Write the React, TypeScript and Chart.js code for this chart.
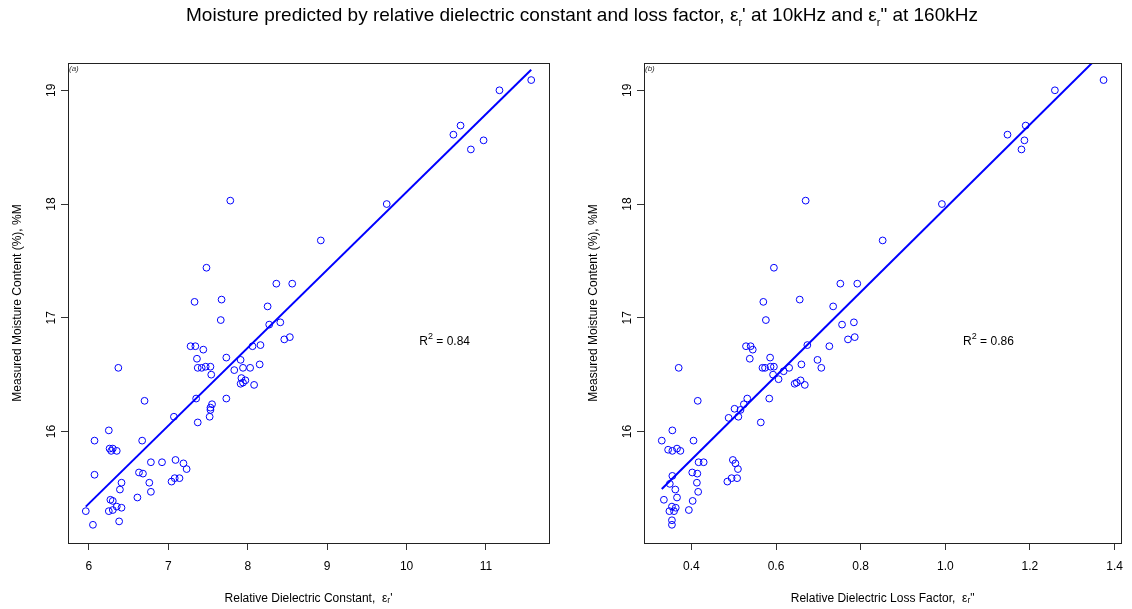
import React, { useEffect, useRef } from "react";
import { Chart, registerables } from "chart.js";

Chart.register(...registerables);

// ---------- data ----------
const constX = [
  7.48, 8.36, 8.56, 7.33, 7.67, 7.66, 8.25, 8.27, 8.41, 8.46, 8.53,
  7.28, 7.34, 7.44, 7.36, 7.73, 8.06, 8.16, 7.91,
  7.37, 7.42, 7.47, 7.53, 7.54, 6.37, 7.83, 7.94, 8.03, 8.15,
  7.92, 7.97, 7.94, 7.91, 8.08,
  6.70, 7.35, 7.73, 7.55, 7.53, 7.53, 7.52, 7.07, 7.37,
  6.25, 6.07, 6.67, 6.26, 6.30, 6.28, 6.35, 6.78, 6.92, 7.09, 7.19, 7.23,
  6.07, 6.63, 6.68, 7.04, 7.08, 7.14, 6.76, 6.41, 6.39, 6.78, 6.61, 6.27,
  6.30, 6.35, 6.41, 6.25, 6.30, 5.96, 6.05, 6.38,
  11.57, 11.17, 10.59, 10.68, 10.81, 10.97, 9.75, 7.78, 8.92,
];
const constY = [
  17.44, 17.30, 17.30, 17.14, 17.16, 16.98, 17.10, 16.94, 16.96, 16.81, 16.83,
  16.75, 16.75, 16.72, 16.64, 16.65, 16.75, 16.76, 16.63,
  16.56, 16.56, 16.57, 16.57, 16.50, 16.56, 16.54, 16.56, 16.56, 16.59,
  16.47, 16.45, 16.43, 16.42, 16.41,
  16.27, 16.29, 16.29, 16.24, 16.21, 16.19, 16.13, 16.13, 16.08,
  16.01, 15.92, 15.92, 15.85, 15.85, 15.83, 15.83, 15.73, 15.73, 15.75, 15.72, 15.67,
  15.62, 15.64, 15.63, 15.56, 15.59, 15.59, 15.55, 15.55, 15.49, 15.47, 15.42, 15.40,
  15.39, 15.34, 15.33, 15.30, 15.31, 15.30, 15.18, 15.21,
  19.09, 19.00, 18.61, 18.69, 18.48, 18.56, 18.00, 18.03, 17.68,
];
const lossX = [
  0.595, 0.752, 0.792, 0.570, 0.656, 0.576, 0.735, 0.756, 0.784, 0.770, 0.786,
  0.529, 0.540, 0.545, 0.538, 0.674, 0.726, 0.586, 0.698,
  0.568, 0.574, 0.587, 0.595, 0.593, 0.370, 0.618, 0.631, 0.707, 0.660, 0.606,
  0.644, 0.649, 0.658, 0.668,
  0.415, 0.584, 0.532, 0.524, 0.516, 0.511, 0.502, 0.488, 0.564,
  0.355, 0.330, 0.405, 0.345, 0.355, 0.366, 0.374, 0.417, 0.429, 0.498, 0.504, 0.510,
  0.355, 0.402, 0.414, 0.485, 0.495, 0.508, 0.413, 0.349, 0.362, 0.416, 0.403, 0.335,
  0.366, 0.354, 0.363, 0.348, 0.359, 0.394, 0.354, 0.354,
  1.374, 1.259, 1.147, 1.190, 1.180, 1.187, 0.992, 0.670, 0.852,
];
const lossY = [
  17.44, 17.30, 17.30, 17.14, 17.16, 16.98, 17.10, 16.94, 16.96, 16.81, 16.83,
  16.75, 16.75, 16.72, 16.64, 16.76, 16.75, 16.65, 16.63,
  16.56, 16.56, 16.57, 16.57, 16.50, 16.56, 16.53, 16.56, 16.56, 16.59, 16.46,
  16.42, 16.43, 16.45, 16.41,
  16.27, 16.29, 16.29, 16.24, 16.19, 16.13, 16.20, 16.12, 16.08,
  16.01, 15.92, 15.92, 15.84, 15.83, 15.85, 15.83, 15.73, 15.73, 15.75, 15.72, 15.67,
  15.61, 15.64, 15.63, 15.56, 15.59, 15.59, 15.55, 15.54, 15.49, 15.47, 15.39, 15.40,
  15.42, 15.34, 15.33, 15.30, 15.30, 15.31, 15.22, 15.18,
  19.09, 19.00, 18.61, 18.69, 18.48, 18.56, 18.00, 18.03, 17.68,
];
// fitted lines (end points)
const constFitX = [5.96, 11.57];
const constFitY = [15.34, 19.18];
const lossFitX = [0.33, 1.374];
const lossFitY = [15.495, 19.34];

const yTicks = [16, 17, 18, 19];
const constTicks = [6, 7, 8, 9, 10, 11];
const lossTicks = [0.4, 0.6, 0.8, 1.0, 1.2, 1.4];

const FONT = "'Liberation Sans', Arial, Helvetica, sans-serif";
const BLUE = "#0000ff";

const framePlugin = {
  id: "frame",
  afterDraw(chart: any, _args: any, opts: any) {
    const { ctx, chartArea: a, scales } = chart;
    ctx.save();
    ctx.strokeStyle = "#222";
    ctx.lineWidth = 1;
    ctx.strokeRect(Math.round(a.left) + 0.5, Math.round(a.top) + 0.5, Math.round(a.right - a.left), Math.round(a.bottom - a.top));
    // panel tag
    ctx.fillStyle = "#333";
    ctx.font = `italic 8px ${FONT}`;
    ctx.textAlign = "left";
    ctx.textBaseline = "top";
    ctx.fillText(opts.tag, a.left + 1, a.top + 2);
    // R^2 annotation
    const cx = scales.x.getPixelForValue(opts.r2x);
    const cy = scales.y.getPixelForValue(opts.r2y);
    ctx.fillStyle = "#000";
    ctx.textBaseline = "middle";
    ctx.font = `12px ${FONT}`;
    const wR = ctx.measureText("R").width;
    const rest = " = " + opts.r2;
    const wRest = ctx.measureText(rest).width;
    ctx.font = `9px ${FONT}`;
    const w2 = ctx.measureText("2").width;
    const total = wR + w2 + wRest;
    let x = cx - total / 2;
    ctx.font = `12px ${FONT}`;
    ctx.fillText("R", x, cy);
    x += wR;
    ctx.font = `9px ${FONT}`;
    ctx.fillText("2", x, cy - 5);
    x += w2;
    ctx.font = `12px ${FONT}`;
    ctx.fillText(rest, x, cy);
    ctx.restore();
  },
};

type PanelCfg = {
  xs: number[];
  ys: number[];
  fitX: number[];
  fitY: number[];
  xMin: number;
  xMax: number;
  xStep: number;
  xTicks: number[];
  decimals: number;
  xTitle: string;
  tag: string;
  r2: string;
  r2x: number;
  r2y: number;
  padLeft: number;
  padRight: number;
  left: number;
};

function Panel({ cfg }: { cfg: PanelCfg }) {
  const ref = useRef<HTMLCanvasElement | null>(null);
  useEffect(() => {
    if (!ref.current) return;
    const pts = cfg.xs.map((x, i) => ({ x, y: cfg.ys[i] }));
    const fit = cfg.fitX.map((x, i) => ({ x, y: cfg.fitY[i] }));
    const chart = new Chart(ref.current, {
      type: "scatter",
      data: {
        datasets: [
          {
            type: "line",
            data: fit,
            borderColor: BLUE,
            borderWidth: 2,
            pointRadius: 0,
            fill: false,
          } as any,
          {
            data: pts,
            pointStyle: "circle",
            pointRadius: 3.4,
            pointBorderWidth: 1,
            borderColor: BLUE,
            backgroundColor: "rgba(0,0,0,0)",
          },
        ],
      },
      options: {
        animation: false,
        responsive: false,
        devicePixelRatio: 1,
        layout: { padding: { left: cfg.padLeft, right: cfg.padRight, top: 63, bottom: 3 } },
        plugins: {
          legend: { display: false },
          tooltip: { enabled: false },
          frame: { tag: cfg.tag, r2: cfg.r2, r2x: cfg.r2x, r2y: cfg.r2y },
        } as any,
        scales: {
          x: {
            type: "linear",
            min: cfg.xMin,
            max: cfg.xMax,
            afterFit: (s: any) => {
              s.height = 63;
            },
            afterBuildTicks: (s: any) => {
              s.ticks = cfg.xTicks.map((v) => ({ value: v }));
            },
            ticks: {
              stepSize: cfg.xStep,
              includeBounds: false,
              color: "#000",
              font: { family: FONT, size: 12 },
              padding: 9,
              maxRotation: 0,
              callback: (v: any) => Number(v).toFixed(cfg.decimals),
            },
            grid: { drawOnChartArea: false, drawTicks: true, tickLength: 7, color: "#333" },
            border: { display: false },
            title: {
              display: true,
              text: cfg.xTitle,
              color: "#000",
              font: { family: FONT, size: 12 },
              padding: { top: 0, bottom: 0 },
            },
          },
          y: {
            type: "linear",
            min: 15.02,
            max: 19.24,
            afterFit: (s: any) => {
              s.width = 60;
            },
            afterBuildTicks: (s: any) => {
              s.ticks = yTicks.map((v) => ({ value: v }));
            },
            ticks: {
              stepSize: 1,
              includeBounds: false,
              color: "#000",
              font: { family: FONT, size: 12 },
              padding: 3,
              minRotation: 90,
              maxRotation: 90,
              crossAlign: "center",
              callback: (v: any) => String(v),
            },
            grid: { drawOnChartArea: false, drawTicks: true, tickLength: 7, color: "#333" },
            border: { display: false },
            title: {
              display: true,
              text: "Measured Moisture Content (%), %M",
              color: "#000",
              font: { family: FONT, size: 12 },
              padding: { top: 2, bottom: 0 },
            },
          },
        },
      },
      plugins: [framePlugin],
    });
    return () => chart.destroy();
  }, [cfg]);
  return (
    <canvas
      ref={ref}
      width={566}
      height={609}
      style={{ position: "absolute", left: cfg.left, top: 0, width: 566, height: 609, display: "block" }}
    />
  );
}

const leftCfg: PanelCfg = {
  xs: constX,
  ys: constY,
  fitX: constFitX,
  fitY: constFitY,
  xMin: 5.736,
  xMax: 11.794,
  xStep: 1,
  xTicks: constTicks,
  decimals: 0,
  xTitle: "Relative Dielectric Constant,  \u03b5\u1d63'",
  tag: "(a)",
  r2: "0.84",
  r2x: 10.48,
  r2y: 16.79,
  padLeft: 8,
  padRight: 17,
  left: 0,
};

const rightCfg: PanelCfg = {
  xs: lossX,
  ys: lossY,
  fitX: lossFitX,
  fitY: lossFitY,
  xMin: 0.288,
  xMax: 1.416,
  xStep: 0.2,
  xTicks: lossTicks,
  decimals: 1,
  xTitle: "Relative Dielectric Loss Factor,  \u03b5\u1d63\"",
  tag: "(b)",
  r2: "0.86",
  r2x: 1.102,
  r2y: 16.79,
  padLeft: 18,
  padRight: 7,
  left: 566,
};

export default function App() {
  return (
    <div
      style={{
        position: "fixed",
        left: 0,
        top: 0,
        width: 1132,
        height: 609,
        background: "#fff",
        overflow: "hidden",
      }}
    >
      <Panel cfg={leftCfg} />
      <Panel cfg={rightCfg} />
      <div
        style={{
          position: "absolute",
          left: 16,
          top: 4,
          width: 1132,
          textAlign: "center",
          fontFamily: FONT,
          fontSize: 19,
          lineHeight: "22px",
          color: "#000",
          zIndex: 2,
          whiteSpace: "nowrap",
        }}
      >
        Moisture predicted by relative dielectric constant and loss factor, ε
        <sub style={{ fontSize: 11 }}>r</sub>' at 10kHz and ε<sub style={{ fontSize: 11 }}>r</sub>" at 160kHz
      </div>
    </div>
  );
}
